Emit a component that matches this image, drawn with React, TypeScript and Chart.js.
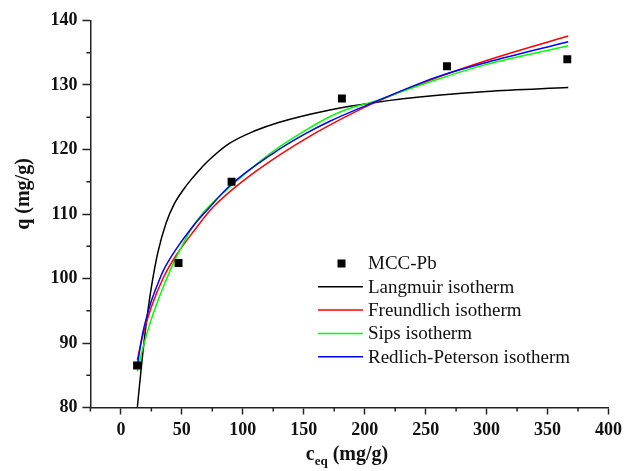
import React, { useEffect, useRef } from 'react';
import { Chart, registerables } from 'chart.js';

Chart.register(...registerables);

const FONT = '"Liberation Serif", "Times New Roman", serif';

// Experimental data (MCC-Pb)
const expCeq = [13.3, 47.3, 90.8, 181.3, 267.5, 366.2];
const expQ = [86.5, 102.4, 115.0, 127.9, 132.9, 134.0];

// Fitted isotherm curves
const langmuirC = [13.5, 16.8, 20.8, 24.9, 30.3, 37.1, 43.9, 52.1, 58.8, 64.3, 72.6, 88.7, 110, 129.4, 170.5, 208.6, 260, 300, 367];
const langmuirQ = [80, 86.3, 93.0, 98.5, 104.0, 108.6, 111.6, 114.0, 115.6, 116.8, 118.4, 120.9, 122.9, 124.2, 126.1, 127.3, 128.4, 129.0, 129.6];

const freundlichC = [13.5, 18, 25, 35, 45.4, 60, 75.3, 100, 124.2, 150, 170.5, 208.6, 260, 300, 367];
const freundlichQ = [87.4, 91.2, 95.6, 100.2, 103.6, 107.4, 111.0, 115.1, 118.4, 121.5, 123.7, 127.3, 131.2, 133.8, 137.6];

const sipsC = [13.5, 18, 25, 30.3, 35, 43.9, 50, 57.5, 68, 90, 124, 150, 170.5, 185, 208.6, 227.6, 260, 300, 367];
const sipsQ = [85.6, 89.2, 93.7, 96.5, 98.8, 102.7, 105.0, 107.6, 110.3, 114.3, 119.6, 122.8, 125.0, 126.2, 127.5, 128.8, 130.9, 133.2, 136.1];

const rpC = [13.3, 18, 25, 30.3, 35, 46.6, 60, 68.3, 90, 124, 150, 170.5, 208.6, 260, 300, 367];
const rpQ = [86.4, 91.6, 96.5, 99.2, 101.3, 104.9, 108.3, 110.1, 114.5, 119.3, 122.3, 124.3, 127.4, 131.3, 133.5, 136.7];

// Axes
const xTicks = [0, 50, 100, 150, 200, 250, 300, 350, 400];
const xMinorTicks = [-25, 25, 75, 125, 175, 225, 275, 325, 375];
const yTicks = [80, 90, 100, 110, 120, 130, 140];
const yMinorTicks = [85, 95, 105, 115, 125, 135];

const legendOrder = ['MCC-Pb', 'Langmuir isotherm', 'Freundlich isotherm', 'Sips isotherm', 'Redlich-Peterson isotherm'];

const AXIS_COLOR = '#222';

const toXY = (xs: number[], ys: number[]) => xs.map((x, i) => ({ x, y: ys[i] }));

const minorTickPlugin = {
  id: 'minorTicks',
  afterDraw(chart: any) {
    const { ctx, scales } = chart;
    const xs = scales.x;
    const ys = scales.y;
    const area = chart.chartArea;
    ctx.save();
    ctx.strokeStyle = AXIS_COLOR;
    ctx.lineWidth = 1.5;
    ctx.beginPath();
    xMinorTicks.forEach((v) => {
      const px = xs.getPixelForValue(v);
      ctx.moveTo(px, area.bottom);
      ctx.lineTo(px, area.bottom + 4);
    });
    yMinorTicks.forEach((v) => {
      const py = ys.getPixelForValue(v);
      ctx.moveTo(area.left, py);
      ctx.lineTo(area.left - 4, py);
    });
    ctx.stroke();
    ctx.restore();
  },
};

const titlesPlugin = {
  id: 'axisTitles',
  afterDraw(chart: any) {
    const { ctx } = chart;
    const area = chart.chartArea;
    ctx.save();
    ctx.fillStyle = '#111';
    const big = `bold 20px ${FONT}`;
    const small = `bold 13px ${FONT}`;
    ctx.textBaseline = 'alphabetic';
    ctx.font = big;
    const wC = ctx.measureText('c').width;
    const wRest = ctx.measureText(' (mg/g)').width;
    ctx.font = small;
    const wSub = ctx.measureText('eq').width;
    const total = wC + wSub + wRest;
    let x = 347 - total / 2;
    const base = 460;
    ctx.textAlign = 'left';
    ctx.font = big;
    ctx.fillText('c', x, base);
    x += wC;
    ctx.font = small;
    ctx.fillText('eq', x, base + 5);
    x += wSub;
    ctx.font = big;
    ctx.fillText(' (mg/g)', x, base);
    ctx.translate(24, (area.top + area.bottom) / 2 - 20);
    ctx.rotate(-Math.PI / 2);
    ctx.textAlign = 'center';
    ctx.textBaseline = 'middle';
    ctx.font = big;
    ctx.fillText('q (mg/g)', 0, 0);
    ctx.restore();
  },
};

const legendPlugin = {
  id: 'floatLegend',
  afterDraw(chart: any) {
    const { ctx } = chart;
    const datasets = chart.data.datasets;
    const rowY0 = 263.5;
    const step = 23.3;
    const lineX0 = 318;
    const lineX1 = 363;
    const textX = 368;
    ctx.save();
    ctx.font = `19px ${FONT}`;
    ctx.textBaseline = 'middle';
    ctx.textAlign = 'left';
    legendOrder.forEach((label, i) => {
      const ds = datasets.find((d: any) => d.label === label);
      if (!ds) return;
      const y = rowY0 + i * step;
      if (ds.showLine) {
        ctx.strokeStyle = ds.borderColor;
        ctx.lineWidth = 1.5;
        ctx.beginPath();
        ctx.moveTo(lineX0, y);
        ctx.lineTo(lineX1, y);
        ctx.stroke();
      } else {
        ctx.fillStyle = ds.backgroundColor;
        ctx.fillRect(341.5 - 4, y - 4, 8, 8);
      }
      ctx.fillStyle = '#111';
      ctx.fillText(ds.label, textX, y + 1);
    });
    ctx.restore();
  },
};

export default function App() {
  const canvasRef = useRef<HTMLCanvasElement | null>(null);

  useEffect(() => {
    const canvas = canvasRef.current;
    if (!canvas) return;
    const lineDs = (label: string, xs: number[], ys: number[], color: string) => ({
      label,
      data: toXY(xs, ys),
      showLine: true,
      borderColor: color,
      backgroundColor: color,
      borderWidth: 1.5,
      pointRadius: 0,
      pointHoverRadius: 0,
      cubicInterpolationMode: 'monotone' as const,
    });
    const chart = new Chart(canvas, {
      type: 'scatter',
      data: {
        datasets: [
          lineDs('Redlich-Peterson isotherm', rpC, rpQ, '#0000ff'),
          lineDs('Sips isotherm', sipsC, sipsQ, '#00ff00'),
          lineDs('Freundlich isotherm', freundlichC, freundlichQ, '#ff0000'),
          lineDs('Langmuir isotherm', langmuirC, langmuirQ, '#000000'),
          {
            label: 'MCC-Pb',
            data: toXY(expCeq, expQ),
            showLine: false,
            pointStyle: 'rect',
            pointRadius: 5.6,
            backgroundColor: '#000000',
            borderColor: '#000000',
            borderWidth: 0,
            order: -1,
          },
        ],
      },
      options: {
        responsive: false,
        animation: false,
        events: [],
        layout: { padding: { left: 0, right: 14.7, top: 20.5, bottom: 0 } },
        plugins: {
          legend: { display: false },
          tooltip: { enabled: false },
          title: { display: false },
        },
        scales: {
          x: {
            type: 'linear',
            min: -25,
            max: 400,
            afterBuildTicks: (scale: any) => {
              scale.ticks = xTicks.map((v) => ({ value: v }));
            },
            afterFit: (scale: any) => {
              scale.height = 63.5;
            },
            grid: {
              display: true,
              drawOnChartArea: false,
              drawTicks: true,
              tickLength: 7,
              tickWidth: 1.5,
              tickColor: AXIS_COLOR,
            },
            border: { display: true, color: AXIS_COLOR, width: 1.5 },
            ticks: {
              padding: 5,
              maxRotation: 0,
              autoSkip: false,
              color: '#111',
              font: { family: FONT, size: 18, weight: 'bold' },
            },
          },
          y: {
            type: 'linear',
            min: 80,
            max: 140,
            afterBuildTicks: (scale: any) => {
              scale.ticks = yTicks.map((v) => ({ value: v }));
            },
            afterFit: (scale: any) => {
              scale.width = 90.4;
            },
            grid: {
              display: true,
              drawOnChartArea: false,
              drawTicks: true,
              tickLength: 8,
              tickWidth: 1.5,
              tickColor: AXIS_COLOR,
            },
            border: { display: true, color: AXIS_COLOR, width: 1.5 },
            ticks: {
              padding: 5,
              autoSkip: false,
              color: '#111',
              font: { family: FONT, size: 18, weight: 'bold' },
            },
          },
        },
      },
      plugins: [minorTickPlugin, titlesPlugin, legendPlugin],
    });
    return () => chart.destroy();
  }, []);

  return (
    <div style={{ position: 'fixed', left: 0, top: 0, width: 627, height: 471, background: '#fff' }}>
      <canvas ref={canvasRef} width={627} height={471} style={{ width: 627, height: 471, display: 'block' }} />
    </div>
  );
}
